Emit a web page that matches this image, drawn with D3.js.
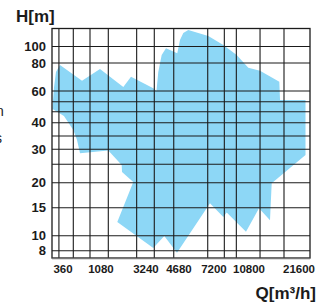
<!DOCTYPE html>
<html><head><meta charset="utf-8">
<script src="https://cdn.jsdelivr.net/npm/d3@7"></script>
<style>
html,body{margin:0;padding:0;background:#fff;}
svg{display:block;}
</style></head><body>
<svg id="c" width="331" height="306"></svg>
<script>
// ---- data ----
const hTicks = [100, 80, 60, 40, 30, 20, 15, 10, 8];
const hGrid = [100, 80, 60, 50, 45, 40, 35, 30, 25, 20, 15, 10, 8];
const qTicks = [360, 1080, 3240, 4680, 7200, 10800, 21600];
const qTickLabels = ["360", "1080", "3240", "4680", "7200", "10800", "21600"];
const qGrid = [320, 485, 786, 1291, 2580, 3554, 4414, 6665, 8115, 9325, 12584, 17543];
const hExtent = [127.6, 7.2];
const qExtent = [262, 25160];
// outline of the covered range (Q in m3/h, H in m)
const areaQ = [330, 624, 1049, 1862, 2247, 3514, 3642, 3716, 3859, 4049, 4592, 4738, 4935, 5247, 6712, 8019, 9364, 10712, 12580, 16438, 16599, 23637, 23637, 14792, 14449, 12406, 10430, 8340, 8019, 6853, 4577, 3973, 3514, 1608, 2376, 1804, 1790, 1291, 589, 540, 485, 370, 266, 270, 278, 294];
const areaH = [78.4, 66.7, 75.2, 62.5, 69.5, 61.7, 60, 72.9, 89.1, 97.6, 91.2, 109.2, 120.1, 125, 115.3, 102, 89.1, 76.2, 73.9, 66.0, 51.5, 51.5, 28.0, 19.9, 12.5, 14.9, 10.6, 14.0, 13.1, 15.8, 7.77, 9.96, 8.33, 12.2, 20.2, 22.8, 24.8, 29.6, 28.6, 33.4, 37.2, 43.0, 46.3, 51.5, 62.5, 72.9];

(function () {
// ---- layout ----
const pLeft = 52, pRight = 310, pTop = 28.5, pBottom = 258;
const ph = pBottom - pTop, pw = pRight - pLeft;
// piecewise log scales (the printed grid is not uniformly logarithmic)
const yDomain = [hExtent[0], ...hGrid, hExtent[1]];
const yFrac = [0, 0.0784, 0.1503, 0.2723, 0.3189, 0.3625, 0.4104, 0.4684, 0.5264, 0.5917, 0.6719, 0.7809, 0.9028, 0.9682, 1];
const y = d3.scaleLog().domain(yDomain).range(yFrac.map(f => pTop + f * ph));
const xDomain = [qExtent[0], ...qTicks, qExtent[1]];
const xFrac = [0, 0.0426, 0.1899, 0.3643, 0.4922, 0.6279, 0.7636, 0.9574, 1];
const x = d3.scaleLog().domain(xDomain).range(xFrac.map(f => pLeft + f * pw));

const svg = d3.select("#c");
const ink = "#1b1b1b";

// area
const pts = areaQ.map((q, i) => [q, areaH[i]]);
svg.append("path")
  .attr("d", d3.line().x(d => x(d[0])).y(d => y(d[1]))(pts) + "Z")
  .attr("fill", "#8dd7f6");

// grid
svg.append("g").selectAll("line").data(qGrid).join("line")
  .attr("x1", d => x(d)).attr("x2", d => x(d))
  .attr("y1", pTop).attr("y2", pBottom)
  .attr("stroke", ink).attr("stroke-width", 1.1);
svg.append("g").selectAll("line").data(hGrid).join("line")
  .attr("x1", pLeft).attr("x2", pRight)
  .attr("y1", d => y(d)).attr("y2", d => y(d))
  .attr("stroke", ink).attr("stroke-width", 1.1);

// frame
svg.append("rect").attr("x", pLeft).attr("y", pTop).attr("width", pw).attr("height", ph)
  .attr("fill", "none").attr("stroke", ink).attr("stroke-width", 1.3);
svg.append("line").attr("x1", pLeft).attr("x2", pRight).attr("y1", pBottom + 0.6).attr("y2", pBottom + 0.6)
  .attr("stroke", "#777").attr("stroke-width", 1.5);

// y tick labels
svg.append("g").selectAll("text").data(hTicks).join("text")
  .attr("x", 46).attr("y", d => y(d)).attr("dy", "0.36em")
  .attr("text-anchor", "end")
  .attr("font-family", "'Liberation Sans', Arial, sans-serif")
  .attr("font-weight", "bold").attr("font-size", 13).attr("fill", ink)
  .text(d => d);

// x tick labels
svg.append("g").selectAll("text").data(qTicks).join("text")
  .attr("x", d => x(d)).attr("y", 273.3)
  .attr("text-anchor", "middle")
  .attr("font-family", "'Liberation Sans Narrow', 'Liberation Sans', Arial, sans-serif")
  .attr("font-weight", "bold").attr("font-size", 11.5).attr("fill", ink)
  .text((d, i) => qTickLabels[i]);

// titles
svg.append("text").attr("x", 16).attr("y", 21.7)
  .attr("font-family", "'Liberation Sans', Arial, sans-serif")
  .attr("font-weight", "bold").attr("font-size", 17).attr("fill", ink)
  .text("H[m]");
svg.append("text").attr("x", 316).attr("y", 298.5).attr("text-anchor", "end")
  .attr("font-family", "'Liberation Sans', Arial, sans-serif")
  .attr("font-weight", "bold").attr("font-size", 17).attr("fill", ink)
  .text("Q[m³/h]");

// cut-off text fragments from the neighbouring column
svg.append("text").attr("x", -4).attr("y", 116)
  .attr("font-family", "'Liberation Sans', Arial, sans-serif")
  .attr("font-size", 14).attr("fill", ink).text("n");
svg.append("text").attr("x", -5).attr("y", 143)
  .attr("font-family", "'Liberation Sans', Arial, sans-serif")
  .attr("font-size", 14).attr("fill", ink).text("s");
})();
</script>
</body></html>
